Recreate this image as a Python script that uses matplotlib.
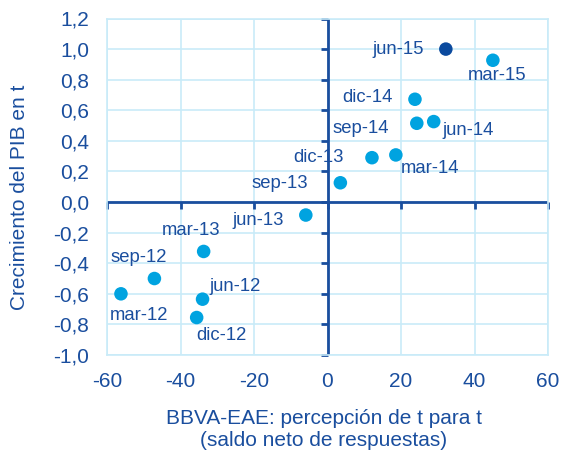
import matplotlib
matplotlib.use("Agg")
import matplotlib.pyplot as plt
import numpy as np

plt.rcParams['font.family'] = ['Liberation Sans', 'DejaVu Sans']

labels = ["mar-12", "jun-12", "sep-12", "dic-12", "mar-13", "jun-13", "sep-13",
          "dic-13", "mar-14", "jun-14", "sep-14", "dic-14", "mar-15", "jun-15"]
x_vals = [-56.2, -34.0, -47.1, -35.6, -33.7, -5.9, 3.5,
          12.1, 18.6, 28.9, 24.3, 23.8, 45.0, 32.2]
y_vals = [-0.60, -0.635, -0.50, -0.755, -0.323, -0.085, 0.126,
          0.29, 0.308, 0.526, 0.515, 0.672, 0.927, 1.00]
label_x = [-51.2, -25.2, -51.5, -29.0, -37.2, -18.8, -13.1,
           -2.4, 27.9, 38.3, 9.0, 10.8, 46.2, 19.2]
label_y = [-0.74, -0.554, -0.365, -0.875, -0.188, -0.122, 0.124,
           0.288, 0.22, 0.471, 0.478, 0.685, 0.83, 1.0]
highlight = "jun-15"

x_ticks = [-60, -40, -20, 0, 20, 40, 60]
y_ticks = [-1.0, -0.8, -0.6, -0.4, -0.2, 0.0, 0.2, 0.4, 0.6, 0.8, 1.0, 1.2]

text_c = "#1A4E9E"
light = "#00A3E0"
dark = "#0B4A9E"
grid_c = "#C9EBF8"

fig = plt.figure(figsize=(5.63, 4.53), dpi=100)
ax = fig.add_axes([107/563, 1 - 355/453, 441/563, (355 - 18.5)/453])
ax.set_xlim(-60, 60)
ax.set_ylim(-1.0, 1.2)
ax.set_xticks(x_ticks)
ax.set_yticks(y_ticks)
ax.set_xticklabels([f"{t}" for t in x_ticks])
ax.set_yticklabels([f"{t:.1f}".replace(".", ",") for t in y_ticks])
ax.tick_params(length=0, labelsize=15, colors=text_c)
ax.tick_params(axis='y', pad=13)
ax.tick_params(axis='x', pad=12)
for s in ax.spines.values():
    s.set_color(grid_c)
    s.set_linewidth(1.2)
ax.grid(True, color=grid_c, linewidth=1.2)
ax.set_axisbelow(True)

# center axes
ax.axhline(0, color=text_c, linewidth=2.0, zorder=2)
ax.axvline(0, color=text_c, linewidth=2.0, zorder=2)
ax.plot(np.zeros(len(y_ticks)), y_ticks, linestyle='none', marker=0,
        markersize=5, markeredgewidth=2.0, color=text_c, zorder=2, clip_on=False)
ax.plot(x_ticks, np.zeros(len(x_ticks)), linestyle='none', marker=3,
        markersize=5, markeredgewidth=2.0, color=text_c, zorder=2, clip_on=False)

colors = [dark if l == highlight else light for l in labels]
ax.scatter(x_vals, y_vals, s=95, c=colors, edgecolors='none', zorder=3)
for l, tx, ty in zip(labels, label_x, label_y):
    ax.text(tx, ty, l, ha='center', va='center', fontsize=13.3, color=text_c, zorder=4)

fig.text(324/563, 1 - 418/453, "BBVA-EAE: percepción de t para t",
         ha='center', va='center', fontsize=15, color=text_c)
fig.text(324/563, 1 - 441/453, "(saldo neto de respuestas)",
         ha='center', va='center', fontsize=15, color=text_c)
fig.text(20/563, 1 - 197/453, "Crecimiento del PIB en t", rotation=90,
         ha='center', va='center', fontsize=15, color=text_c)

fig.savefig("out.png", dpi=100)
